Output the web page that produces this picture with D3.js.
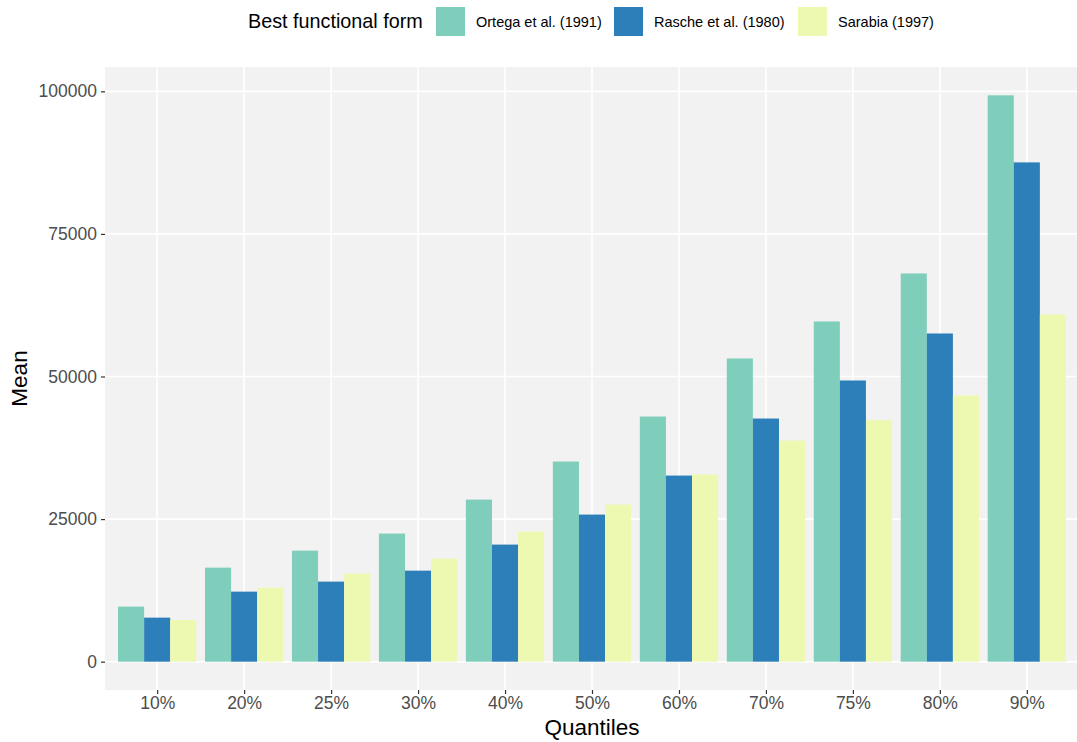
<!DOCTYPE html>
<html>
<head>
<meta charset="utf-8">
<script src="https://cdn.jsdelivr.net/npm/d3@7"></script>
<style>
  body { margin: 0; background: #fff; }
  svg { display: block; font-family: "Liberation Sans", Arial, sans-serif; }
</style>
</head>
<body>
<svg id="chart" width="1077" height="742"></svg>
<script>
const quantiles = ["10%","20%","25%","30%","40%","50%","60%","70%","75%","80%","90%"];
const seriesNames = ["Ortega et al. (1991)","Rasche et al. (1980)","Sarabia (1997)"];
const ortega = [9650,16490,19470,22460,28420,35090,42980,53160,59650,68070,99300];
const rasche = [7720,12280,14040,15960,20530,25790,32630,42630,49300,57540,87540];
const sarabia = [7310,12980,15440,18070,22810,27540,32810,38770,42370,46670,60880];
const yTicks = [0,25000,50000,75000,100000];
const colors = ["#7FCDBB","#2C7FB8","#EDF8B1"];

const seriesValues = [ortega, rasche, sarabia];
const data = [];
quantiles.forEach((q,i) => seriesNames.forEach((s,j) => data.push({q, s, v: seriesValues[j][i]})));

const svg = d3.select("#chart");
const panel = {left: 105, right: 1079, top: 67, bottom: 690};

const maxV = d3.max(data, d => d.v);
const pad = maxV * 0.05;
const y = d3.scaleLinear().domain([-pad, maxV + pad]).range([panel.bottom, panel.top]);

const n = quantiles.length;
const step = (panel.right - panel.left) / (n - 1 + 1.2);
const x = d3.scalePoint().domain(quantiles).range([panel.left + 0.6*step, panel.right - 0.6*step]);
const groupW = step * 0.9;
const xs = d3.scaleBand().domain(seriesNames).range([-groupW/2, groupW/2]).padding(0);
const color = d3.scaleOrdinal().domain(seriesNames).range(colors);

// panel background
svg.append("rect").attr("x", panel.left).attr("y", panel.top)
  .attr("width", panel.right - panel.left).attr("height", panel.bottom - panel.top)
  .attr("fill", "#F2F2F2");

// grid
svg.append("g").selectAll("line").data(yTicks).join("line")
  .attr("x1", panel.left).attr("x2", panel.right)
  .attr("y1", d => y(d)).attr("y2", d => y(d))
  .attr("stroke", "#fff").attr("stroke-width", 1.6);
svg.append("g").selectAll("line").data(quantiles).join("line")
  .attr("y1", panel.top).attr("y2", panel.bottom)
  .attr("x1", d => x(d)).attr("x2", d => x(d))
  .attr("stroke", "#fff").attr("stroke-width", 1.6);

// bars
svg.append("g").selectAll("rect").data(data).join("rect")
  .attr("x", d => x(d.q) + xs(d.s))
  .attr("width", xs.bandwidth())
  .attr("y", d => y(d.v))
  .attr("height", d => y(0) - y(d.v))
  .attr("fill", d => color(d.s));

// axes
const yAxis = d3.axisLeft(y).tickValues(yTicks).tickSize(4).tickPadding(4).tickFormat(d3.format("d"));
const gy = svg.append("g").attr("transform", `translate(${panel.left},0)`).call(yAxis);
gy.select(".domain").remove();
gy.selectAll("line").attr("stroke", "#333").attr("stroke-width", 1.2);
gy.selectAll("text").attr("fill", "#4D4D4D").attr("font-size", 17.5).attr("font-family", "Liberation Sans, Arial, sans-serif");

const xAxis = d3.axisBottom(x).tickSize(4).tickPadding(3);
const gx = svg.append("g").attr("transform", `translate(0,${panel.bottom})`).call(xAxis);
gx.select(".domain").remove();
gx.selectAll("line").attr("stroke", "#333").attr("stroke-width", 1.2);
gx.selectAll("text").attr("fill", "#4D4D4D").attr("font-size", 17.5).attr("font-family", "Liberation Sans, Arial, sans-serif");

// axis titles
svg.append("text").attr("x", 592).attr("y", 735)
  .attr("text-anchor", "middle").attr("font-size", 22.5).attr("fill", "#000").text("Quantiles");
svg.append("text").attr("transform", `translate(27,${(panel.top+panel.bottom)/2}) rotate(-90)`)
  .attr("text-anchor", "middle").attr("font-size", 22.5).attr("fill", "#000").text("Mean");

// legend
const leg = svg.append("g");
leg.append("text").attr("x", 248).attr("y", 28).attr("font-size", 19.8).attr("fill", "#000").text("Best functional form");
const keyX = [436, 614, 798];
seriesNames.forEach((s, i) => {
  leg.append("rect").attr("x", keyX[i]).attr("y", 7).attr("width", 29).attr("height", 29).attr("fill", color(s));
  leg.append("text").attr("x", keyX[i] + 40).attr("y", 27).attr("font-size", 14.5).attr("fill", "#000").text(s);
});
</script>
</body>
</html>
